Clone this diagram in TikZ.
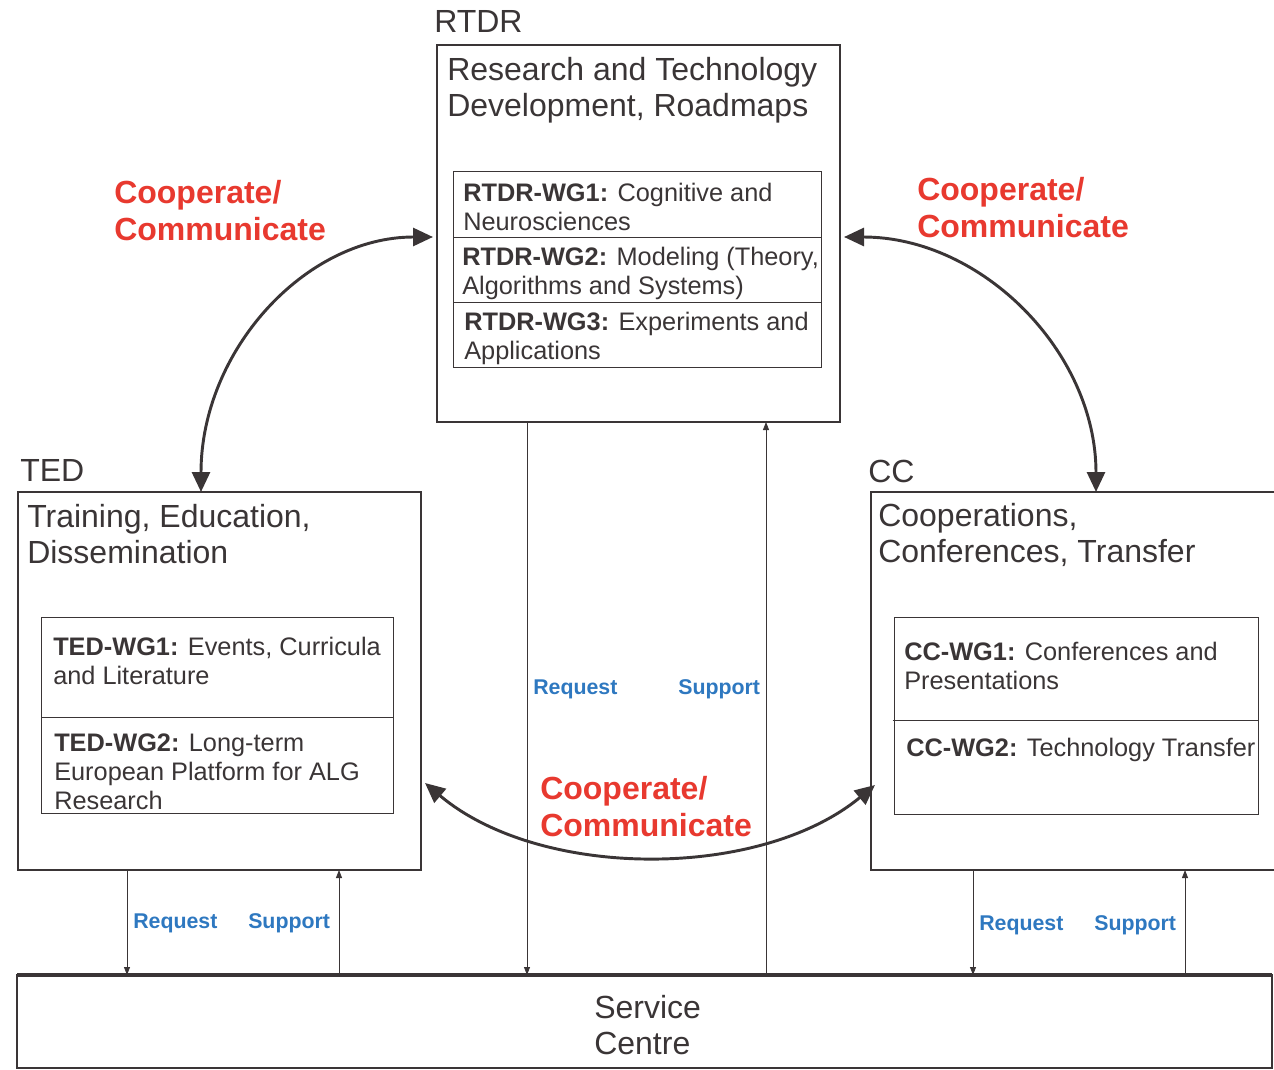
\documentclass[tikz,border=0pt]{standalone}
\usepackage{fontspec}
\setmainfont{Liberation Sans}
\usetikzlibrary{arrows.meta}
\definecolor{ink}{HTML}{3A3536}
\definecolor{cred}{HTML}{E8392F}
\definecolor{cblue}{HTML}{2E78C0}
\begin{document}
\begin{tikzpicture}[x=0.75pt,y=-0.75pt,
  box/.style={draw=ink,line width=0.9pt,inner sep=0pt,outer sep=0pt,anchor=north west},
  inbox/.style={draw=ink,line width=0.75pt,inner sep=0pt,outer sep=0pt,anchor=north west},
  divider/.style={draw=ink,line width=0.75pt},
  big/.style={font=\fontsize{24}{27}\selectfont,text=ink,align=left,inner sep=0pt,anchor=base west},
  wg/.style={font=\fontsize{19}{21.4}\selectfont,text=ink,align=left,inner sep=0pt,anchor=base west},
  coop/.style={font=\fontsize{24}{27.75}\selectfont\bfseries,text=cred,align=left,inner sep=0pt,anchor=base west},
  rs/.style={font=\fontsize{16}{18}\selectfont\bfseries,text=cblue,inner sep=0pt,anchor=base west},
  heavy/.style={draw=ink,line width=2.2pt,{Triangle[length=15pt,width=13.5pt]}-{Triangle[length=15pt,width=13.5pt]}},
  thin/.style={draw=ink,line width=0.6pt,-{Triangle[length=6pt,width=4.5pt]}}
]
\useasboundingbox (0,0) rectangle (1274,1070);

% outer boxes
\node[box,minimum width=302.25pt,minimum height=282.75pt] (rtdr) at (437,45) {};
\node[box,minimum width=302.25pt,minimum height=283.5pt] (ted) at (18,492) {};
\node[box,minimum width=315pt,minimum height=283.5pt] (cc) at (871,492) {};
\node[box,line width=1.3pt,minimum width=941.25pt,minimum height=69.75pt] (sc) at (17,975) {};
\draw[draw=ink,line width=2.6pt] (sc.north west) -- (sc.north east);

% inner boxes
\node[inbox,minimum width=276pt,minimum height=146.25pt] (rin) at (453,172) {};
\node[inbox,minimum width=264pt,minimum height=147pt] (tin) at (41,617) {};
\node[inbox,minimum width=273pt,minimum height=147.75pt] (cin) at (894,617) {};
\draw[divider] (rin.west |- 0,237) -- (rin.east |- 0,237);
\draw[divider] (rin.west |- 0,302) -- ([xshift=1pt]rin.east |- 0,302);
\draw[divider] (tin.west |- 0,717) -- ([xshift=1pt]tin.east |- 0,717);
\draw[divider] ([xshift=-1pt]cin.west |- 0,720) -- (cin.east |- 0,720);

% labels and titles (base anchor = baseline of the last line)
\node[big] (lrtdr) at (434,33) {RTDR};
\node[big] (trtdr) at (447,117) {Research and Technology\\Development, Roadmaps};
\node[big] (lted) at (20,481) {TED};
\node[big] (tted) at (27,563) {Training, Education,\\Dissemination};
\node[big] (lcc) at (868,482) {CC};
\node[big] (tcc) at (878,562) {Cooperations,\\Conferences, Transfer};
\node[big] (tsc) at (594,1054) {Service\\Centre};

% working groups
\node[wg] (rwg1) at (463,230) {\textbf{RTDR-WG1:} Cognitive and\\Neurosciences};
\node[wg] (rwg2) at (462,294) {\textbf{RTDR-WG2:} Modeling (Theory,\\Algorithms and Systems)};
\node[wg] (rwg3) at (464,359) {\textbf{RTDR-WG3:} Experiments and\\Applications};
\node[wg] (twg1) at (53,684) {\textbf{TED-WG1:} Events, Curricula\\and Literature};
\node[wg] (twg2) at (54,809) {\textbf{TED-WG2:} Long-term\\European Platform for ALG\\Research};
\node[wg] (cwg1) at (904,689) {\textbf{CC-WG1:} Conferences and\\Presentations};
\node[wg] (cwg2) at (906,756) {\textbf{CC-WG2:} Technology Transfer};

% cooperate / communicate
\node[coop] (c1) at (114,240.5) {Cooperate/\\Communicate};
\node[coop] (c2) at (917,237.5) {Cooperate/\\Communicate};
\node[coop] (c3) at (540,836.5) {Cooperate/\\Communicate};

\draw[heavy] (ted.north -| 201,0) .. controls (201,351) and (305,237) .. ([xshift=-3pt]rtdr.west |- 0,237);
\draw[heavy] ([xshift=3pt]rtdr.east |- 0,237) .. controls (982,237) and (1096,352) .. (cc.north -| 1096,0);
\draw[heavy] ([xshift=3pt]ted.east |- 0,783) .. controls (540,880) and (760,880) .. ([xshift=3pt]cc.west |- 0,785);

% request / support
\draw[thin] (ted.south -| 127,0) -- (sc.north -| 127,0);
\draw[thin] (sc.north -| 339,0) -- (ted.south -| 339,0);
\draw[thin] (rtdr.south -| 527,0) -- (sc.north -| 527,0);
\draw[thin] (sc.north -| 766,0) -- (rtdr.south -| 766,0);
\draw[thin] (cc.south -| 973,0) -- (sc.north -| 973,0);
\draw[thin] (sc.north -| 1185,0) -- (cc.south -| 1185,0);

\node[rs] (rq1) at (133,928) {Request};
\node[rs] (sp1) at (248,928) {Support};
\node[rs] (rq2) at (533,694) {Request};
\node[rs] (sp2) at (678,694) {Support};
\node[rs] (rq3) at (979,930) {Request};
\node[rs] (sp3) at (1094,930) {Support};
\end{tikzpicture}
\end{document}
